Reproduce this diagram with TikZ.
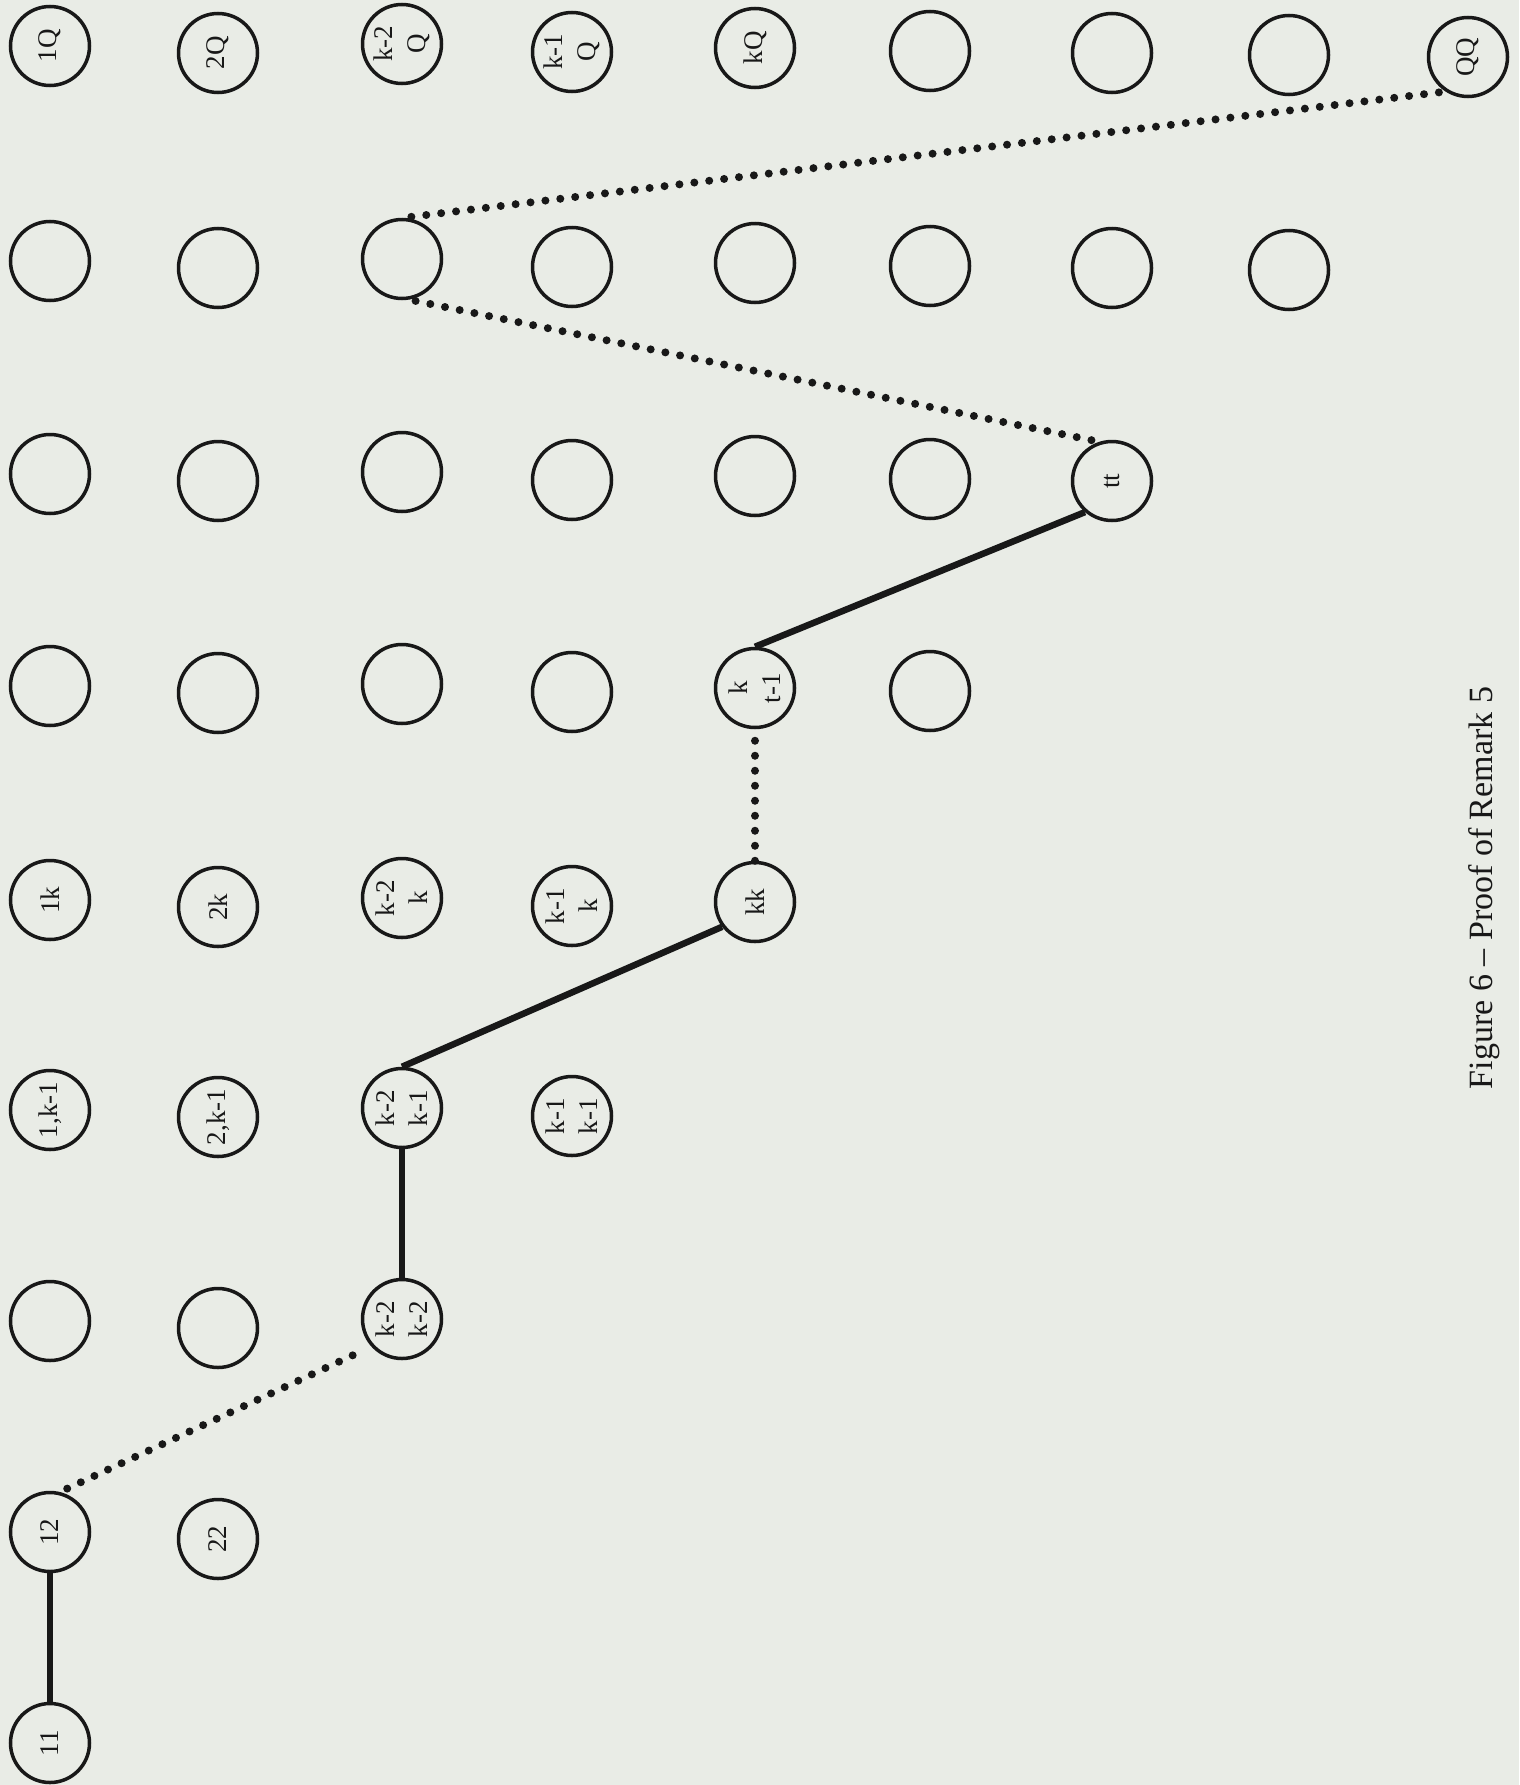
\documentclass[tikz,border=0pt]{standalone}
\usepackage{fontspec}
\setmainfont{Liberation Serif}
\definecolor{paper}{RGB}{233,236,230}
\definecolor{ink}{RGB}{24,24,24}
% note: cells are rotated by 90 degrees, so anchor angles are given in the
% rotated frame (picture angle minus 90): east = picture north, west = picture south
\tikzset{
  cell/.style={circle, draw=ink, line width=3.5pt, minimum size=79pt, inner sep=0pt,
    text=ink, rotate=90, align=center, font=\fontsize{27}{33}\selectfont},
  solidedge/.style={draw=ink, line width=6.5pt},
  dotedge/.style={draw=ink, line width=8pt, line cap=round, dash pattern=on 0pt off 15pt},
  captionstyle/.style={rotate=90, anchor=base, text=ink, font=\fontsize{34}{40}\selectfont, inner sep=0pt}
}
\begin{document}
\begin{tikzpicture}[x=1pt,y=-1pt]
\fill[paper] (0,0) rectangle (1519,1785);
\useasboundingbox (0,0) rectangle (1519,1785);
% column 1
\node[cell] (n11) at (50,1743) {11};
\node[cell] (n12) at (50,1532) {12};
\node[cell] (n13) at (50,1321) {};
\node[cell] (n14) at (50,1110) {1,k-1};
\node[cell] (n15) at (50,900) {1k};
\node[cell] (n16) at (50,686) {};
\node[cell] (n17) at (50,474) {};
\node[cell] (n18) at (50,261) {};
\node[cell] (n19) at (50,46) {1Q};
% column 2
\node[cell] (n22) at (218,1539) {22};
\node[cell] (n23) at (218,1328) {};
\node[cell] (n24) at (218,1117) {2,k-1};
\node[cell] (n25) at (218,907) {2k};
\node[cell] (n26) at (218,693) {};
\node[cell] (n27) at (218,481) {};
\node[cell] (n28) at (218,268) {};
\node[cell] (n29) at (218,53) {2Q};
% column 3
\node[cell] (n33) at (402,1319) {k-2\\k-2};
\node[cell] (n34) at (402,1108) {k-2\\k-1};
\node[cell] (n35) at (402,898) {k-2\\k};
\node[cell] (n36) at (402,684) {};
\node[cell] (n37) at (402,472) {};
\node[cell] (n38) at (402,259) {};
\node[cell] (n39) at (402,44) {k-2\\Q};
% column 4
\node[cell] (n44) at (572,1116) {k-1\\k-1};
\node[cell] (n45) at (572,906) {k-1\\k};
\node[cell] (n46) at (572,692) {};
\node[cell] (n47) at (572,480) {};
\node[cell] (n48) at (572,267) {};
\node[cell] (n49) at (572,52) {k-1\\Q};
% column 5
\node[cell] (n55) at (755,902) {kk};
\node[cell] (n56) at (755,688) {k\\t-1};
\node[cell] (n57) at (755,476) {};
\node[cell] (n58) at (755,263) {};
\node[cell] (n59) at (755,48) {kQ};
% column 6
\node[cell] (n66) at (930,691) {};
\node[cell] (n67) at (930,479) {};
\node[cell] (n68) at (930,266) {};
\node[cell] (n69) at (930,51) {};
% column 7
\node[cell] (n77) at (1112,481) {tt};
\node[cell] (n78) at (1112,268) {};
\node[cell] (n79) at (1112,53) {};
% column 8
\node[cell] (n88) at (1289,270) {};
\node[cell] (n89) at (1289,55) {};
% column 9
\node[cell] (n99) at (1468,57) {QQ};
% connectors (anchors in the rotated frame of the cells)
\draw[solidedge] (n11.east) -- (n12.west);
\draw[dotedge, shorten <=8pt, shorten >=10pt] (n12.-14) -- (n33.132);
\draw[solidedge] (n33.east) -- (n34.west);
\draw[solidedge] (n34.east) -- (n55.127);
\draw[dotedge] (n55.east) -- (n56.west);
\draw[solidedge] (n56.east) -- (n77.139);
\draw[dotedge, shorten <=8pt] (n77.18) -- (n38.190);
\draw[dotedge, shorten <=8pt, shorten >=6pt] (n38.-2) -- (n99.147);
% caption
\node[captionstyle] (cap) at (1492,888) {Figure 6 – Proof of Remark 5};
\end{tikzpicture}
\end{document}
